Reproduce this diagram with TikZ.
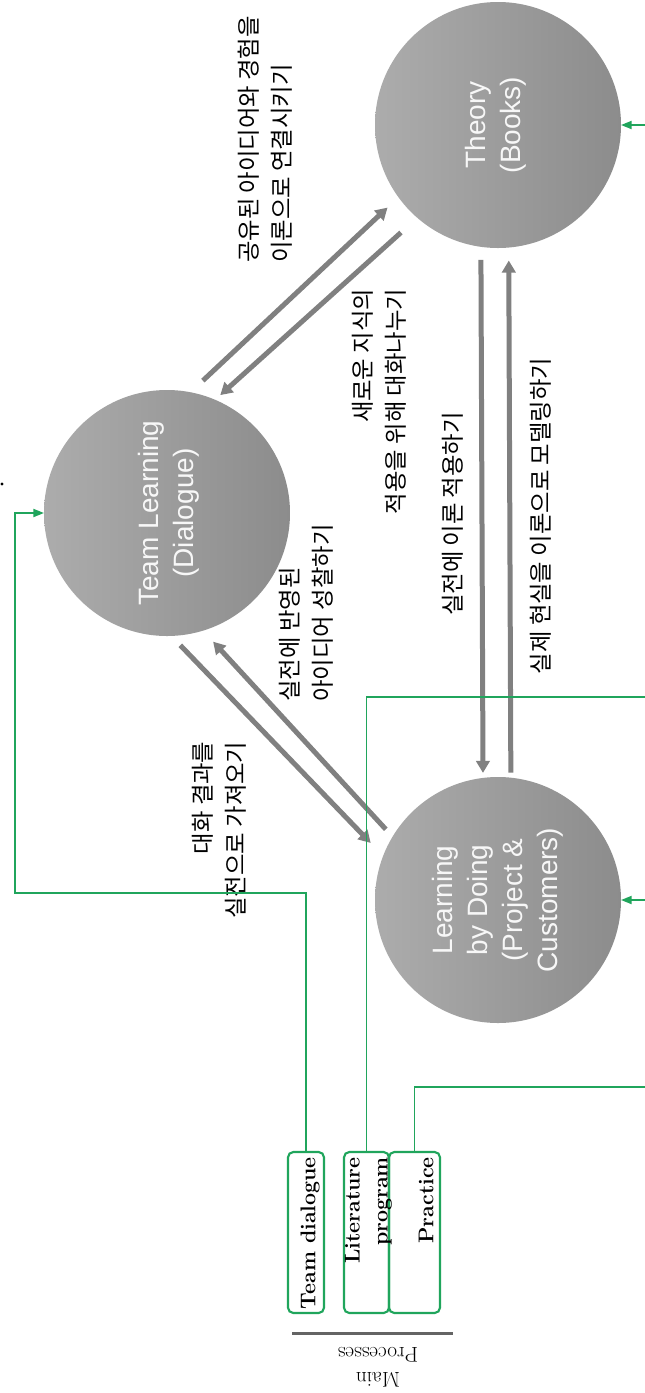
\documentclass[tikz,border=0pt]{standalone}
\usepackage{fontspec}
\newfontfamily\krfont{Noto Sans CJK KR}
\newfontfamily\bubblefont{Liberation Sans}
\usetikzlibrary{arrows.meta}

\definecolor{bubbleL}{RGB}{172,172,172}
\definecolor{bubbleR}{RGB}{140,140,140}
\definecolor{flowgray}{RGB}{128,128,128}
\definecolor{feedgreen}{RGB}{32,165,92}
\definecolor{rulegray}{RGB}{100,100,100}

\begin{document}
\begin{tikzpicture}[x=0.75pt,y=0.75pt,yscale=-1,xscale=1,
  bubble/.style={circle,minimum size=184.5pt,inner sep=0pt,outer sep=0pt,left color=bubbleL,right color=bubbleR},
  bubbletext/.style={rotate=90,align=center,inner sep=0pt,text=white!94!gray,font={\bubblefont\fontsize{21pt}{26.25pt}\selectfont}},
  flow/.style={draw=flowgray,line width=3.75pt,-{Triangle[length=9pt,width=10pt]}},
  feed/.style={draw=feedgreen,line width=1.4pt,-{Triangle[length=8pt,width=6pt]}},
  procbox/.style={draw=feedgreen,line width=1.6pt,rounded corners=4pt,minimum height=120.75pt,inner sep=0pt,outer sep=0pt},
  proctext/.style={rotate=90,inner sep=0pt,font={\bfseries\fontsize{16pt}{21pt}\selectfont}},
  note/.style={rotate=90,inner sep=0pt,font={\krfont\fontsize{17.5pt}{24.75pt}\selectfont}}]
\path[use as bounding box,fill=white] (0,0) rectangle (645,1393);

% Circles
\node[bubble] (th) at (498,125) {};
\node[bubble] (tl) at (167,513) {};
\node[bubble] (lbd) at (498,900) {};
\node[bubbletext] at (495.5,125) {Theory\\(Books)};
\node[bubbletext] at (168.5,513) {Team Learning\\(Dialogue)};
\node[bubbletext] at (497.5,900) {Learning\\by Doing\\(Project \&\\Customers)};

% Arrows between circles
\draw[flow,shorten <=12.75pt,shorten >=11.25pt] (tl.79.7) -- (th.216.5);
\draw[flow,shorten <=16.5pt,shorten >=5.25pt] (th.229.2) -- (tl.67);
\draw[flow,shorten <=9.75pt,shorten >=13.5pt] (tl.272.5) -- (lbd.159.3);
\draw[flow,shorten <=7.5pt,shorten >=11.25pt] (lbd.149.2) -- (tl.287.7);
\draw[flow,shorten <=9.75pt,shorten >=3.75pt] (th.262.8) -- (lbd.97.6);
\draw[flow,shorten <=3.75pt,shorten >=9.75pt] (lbd.84.2) -- (th.275.5);

% Arrow labels
\node[note,align=left] at (265,139.5) {공유된 아이디어와 경험을\\이론으로 연결시키기};
\node[note,align=right] at (379.5,401.5) {새로운 지식의\\적용을 위해 대화나누기};
\node[note] at (453,514) {실전에 이론 적용하기};
\node[note] at (541,516) {실제 현실을 이론으로 모델링하기};
\node[note,align=left] at (306,613) {실전에 반영된\\아이디어 성찰하기};
\node[note,align=right] at (219,830) {대화 결과를\\실전으로 가져오기};

% Process boxes
\node[procbox,minimum width=27pt] (td) at (306,1232.5) {};
\node[procbox,minimum width=33.75pt] (lit) at (366.5,1232.5) {};
\node[procbox,minimum width=38.25pt] (pr) at (414.5,1232.5) {};
\node[proctext,anchor=east] at (310,1157) {Team dialogue};
\node[proctext,anchor=east,align=right] at (368.5,1157) {Literature\\program};
\node[proctext,anchor=east] at (426,1157) {Practice};

% Feed lines
\draw[feed] (td.north) |- (15,893) |- (tl.west);
\draw[feed] (lit.north) |- (650,697) |- (th.east);
\draw[feed] (pr.north) |- (650,1087) |- (lbd.east);

% Main processes
\draw[draw=rulegray,line width=2.25pt] (292,1333) -- (453,1333);
\node[rotate=180,align=center,inner sep=0pt,font={\fontsize{16pt}{19pt}\selectfont}] at (378,1367) {Main\\Processes};

\fill (2,484) circle (1.6);
\end{tikzpicture}
\end{document}
